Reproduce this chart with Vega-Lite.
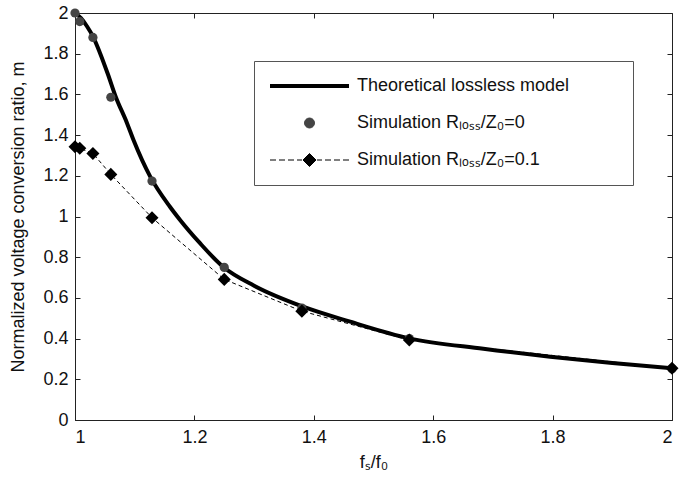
{
  "$schema": "https://vega.github.io/schema/vega-lite/v6.json",
  "width": 597,
  "height": 407,
  "autosize": {"type": "none"},
  "padding": {"left": 75, "top": 13, "right": 24, "bottom": 65},
  "background": "white",
  "config": {
    "font": "Liberation Sans",
    "view": {"stroke": "#222", "strokeWidth": 1},
    "axis": {"grid": false, "domainColor": "#222", "tickColor": "#222", "labelColor": "#111", "titleColor": "#111", "labelFontSize": 18, "titleFontSize": 18, "titleFontWeight": "normal", "labelFont": "Liberation Sans", "titleFont": "Liberation Sans"}
  },
  "data": {"values": [
    {"x": 1.000, "m": 2.000, "series": "theory"},
    {"x": 1.010, "m": 1.975, "series": "theory"},
    {"x": 1.020, "m": 1.935, "series": "theory"},
    {"x": 1.030, "m": 1.885, "series": "theory"},
    {"x": 1.041, "m": 1.810, "series": "theory"},
    {"x": 1.055, "m": 1.700, "series": "theory"},
    {"x": 1.068, "m": 1.590, "series": "theory"},
    {"x": 1.087, "m": 1.460, "series": "theory"},
    {"x": 1.098, "m": 1.376, "series": "theory"},
    {"x": 1.126, "m": 1.196, "series": "theory"},
    {"x": 1.159, "m": 1.048, "series": "theory"},
    {"x": 1.176, "m": 0.983, "series": "theory"},
    {"x": 1.209, "m": 0.870, "series": "theory"},
    {"x": 1.248, "m": 0.753, "series": "theory"},
    {"x": 1.300, "m": 0.660, "series": "theory"},
    {"x": 1.382, "m": 0.557, "series": "theory"},
    {"x": 1.461, "m": 0.483, "series": "theory"},
    {"x": 1.560, "m": 0.401, "series": "theory"},
    {"x": 1.684, "m": 0.350, "series": "theory"},
    {"x": 1.796, "m": 0.311, "series": "theory"},
    {"x": 1.900, "m": 0.280, "series": "theory"},
    {"x": 2.000, "m": 0.254, "series": "theory"},
    {"x": 1.000, "m": 2.000, "series": "sim0"},
    {"x": 1.008, "m": 1.958, "series": "sim0"},
    {"x": 1.030, "m": 1.880, "series": "sim0"},
    {"x": 1.060, "m": 1.586, "series": "sim0"},
    {"x": 1.129, "m": 1.174, "series": "sim0"},
    {"x": 1.250, "m": 0.750, "series": "sim0"},
    {"x": 1.380, "m": 0.550, "series": "sim0"},
    {"x": 1.560, "m": 0.400, "series": "sim0"},
    {"x": 2.000, "m": 0.252, "series": "sim0"},
    {"x": 1.000, "m": 1.343, "series": "sim01"},
    {"x": 1.008, "m": 1.335, "series": "sim01"},
    {"x": 1.030, "m": 1.310, "series": "sim01"},
    {"x": 1.060, "m": 1.207, "series": "sim01"},
    {"x": 1.129, "m": 0.994, "series": "sim01"},
    {"x": 1.250, "m": 0.691, "series": "sim01"},
    {"x": 1.380, "m": 0.535, "series": "sim01"},
    {"x": 1.560, "m": 0.393, "series": "sim01"},
    {"x": 2.000, "m": 0.254, "series": "sim01"}
  ]},
  "resolve": {"axis": {"x": "independent", "y": "independent"}},
  "layer": [
    {
      "transform": [{"filter": "datum.series === 'sim01'"}],
      "mark": {"type": "line", "strokeWidth": 1, "strokeDash": [4, 3], "color": "#000"},
      "encoding": {
        "x": {"field": "x", "type": "quantitative", "scale": {"domain": [1, 2], "nice": false, "zero": false}, "axis": null},
        "y": {"field": "m", "type": "quantitative", "scale": {"domain": [0, 2], "nice": false, "zero": false}, "axis": null}
      }
    },
    {
      "transform": [{"filter": "datum.series === 'theory'"}],
      "mark": {"type": "line", "strokeWidth": 4, "interpolate": "monotone", "color": "#000"},
      "encoding": {
        "x": {"field": "x", "type": "quantitative", "axis": {"orient": "top", "labels": false, "title": null, "tickSize": -5, "values": [1, 1.2, 1.4, 1.6, 1.8, 2], "domain": false}},
        "y": {"field": "m", "type": "quantitative", "axis": {"orient": "right", "labels": false, "title": null, "tickSize": -5, "values": [0, 0.2, 0.4, 0.6, 0.8, 1, 1.2, 1.4, 1.6, 1.8, 2], "domain": false}},
        "color": {
          "field": "series", "type": "nominal",
          "scale": {"domain": ["theory", "sim0", "sim01"], "range": ["#000000", "#444444", "#000000"]},
          "legend": {
            "title": null,
            "orient": "none",
            "legendX": 179,
            "legendY": 48,
            "padding": 16,
            "rowPadding": 19,
            "labelFontSize": 18,
            "labelFont": "Liberation Sans",
            "labelColor": "#111",
            "labelOffset": 69,
            "labelLimit": 500,
            "strokeColor": "#555",
            "fillColor": "#ffffff",
            "labelExpr": "datum.value === 'theory' ? 'Theoretical lossless model' : datum.value === 'sim0' ? 'Simulation Rₗₒₛₛ/Z₀=0' : 'Simulation Rₗₒₛₛ/Z₀=0.1'",
            "encode": {
              "symbols": {
                "update": {
                  "shape": {"signal": "datum.value === 'theory' ? 'M-9,0L70,0M330,0' : datum.value === 'sim0' ? 'M25.5,0A5,5 0 1,0 35.5,0A5,5 0 1,0 25.5,0Z' : 'M-9,0L-3,0M0,0L6,0M9,0L15,0M18,0L23,0M24,0L30.5,-6.5L37,0L30.5,6.5ZM38,0L43,0M46,0L52,0M55,0L61,0M64,0L70,0'"},
                  "size": {"value": 4},
                  "fill": {"signal": "datum.value === 'sim0' ? '#444444' : '#000000'"},
                  "stroke": {"signal": "datum.value === 'sim0' ? 'transparent' : '#000000'"},
                  "strokeWidth": {"signal": "datum.value === 'theory' ? 4 : 1"},
                  "strokeDash": {"value": []},
                  "opacity": {"value": 1},
                  "fillOpacity": {"value": 1},
                  "strokeOpacity": {"value": 1}
                }
              }
            }
          }
        }
      }
    },
    {
      "transform": [{"filter": "datum.series === 'sim0'"}],
      "mark": {"type": "point", "shape": "circle", "filled": true, "size": 85, "opacity": 1},
      "encoding": {
        "x": {"field": "x", "type": "quantitative", "title": "fₛ/f₀", "axis": {"orient": "bottom", "tickSize": -5, "values": [1, 1.2, 1.4, 1.6, 1.8, 2], "format": "~g", "labelPadding": 13, "titlePadding": 7}},
        "y": {"field": "m", "type": "quantitative", "title": "Normalized voltage conversion ratio, m", "axis": {"orient": "left", "tickSize": -5, "values": [0, 0.2, 0.4, 0.6, 0.8, 1, 1.2, 1.4, 1.6, 1.8, 2], "format": "~g", "labelPadding": 12, "titlePadding": 15}},
        "color": {"field": "series", "type": "nominal"}
      }
    },
    {
      "transform": [{"filter": "datum.series === 'sim01'"}],
      "mark": {"type": "point", "shape": "diamond", "filled": true, "size": 170, "opacity": 1},
      "encoding": {
        "x": {"field": "x", "type": "quantitative", "axis": null},
        "y": {"field": "m", "type": "quantitative", "axis": null},
        "color": {"field": "series", "type": "nominal"}
      }
    }
  ]
}
